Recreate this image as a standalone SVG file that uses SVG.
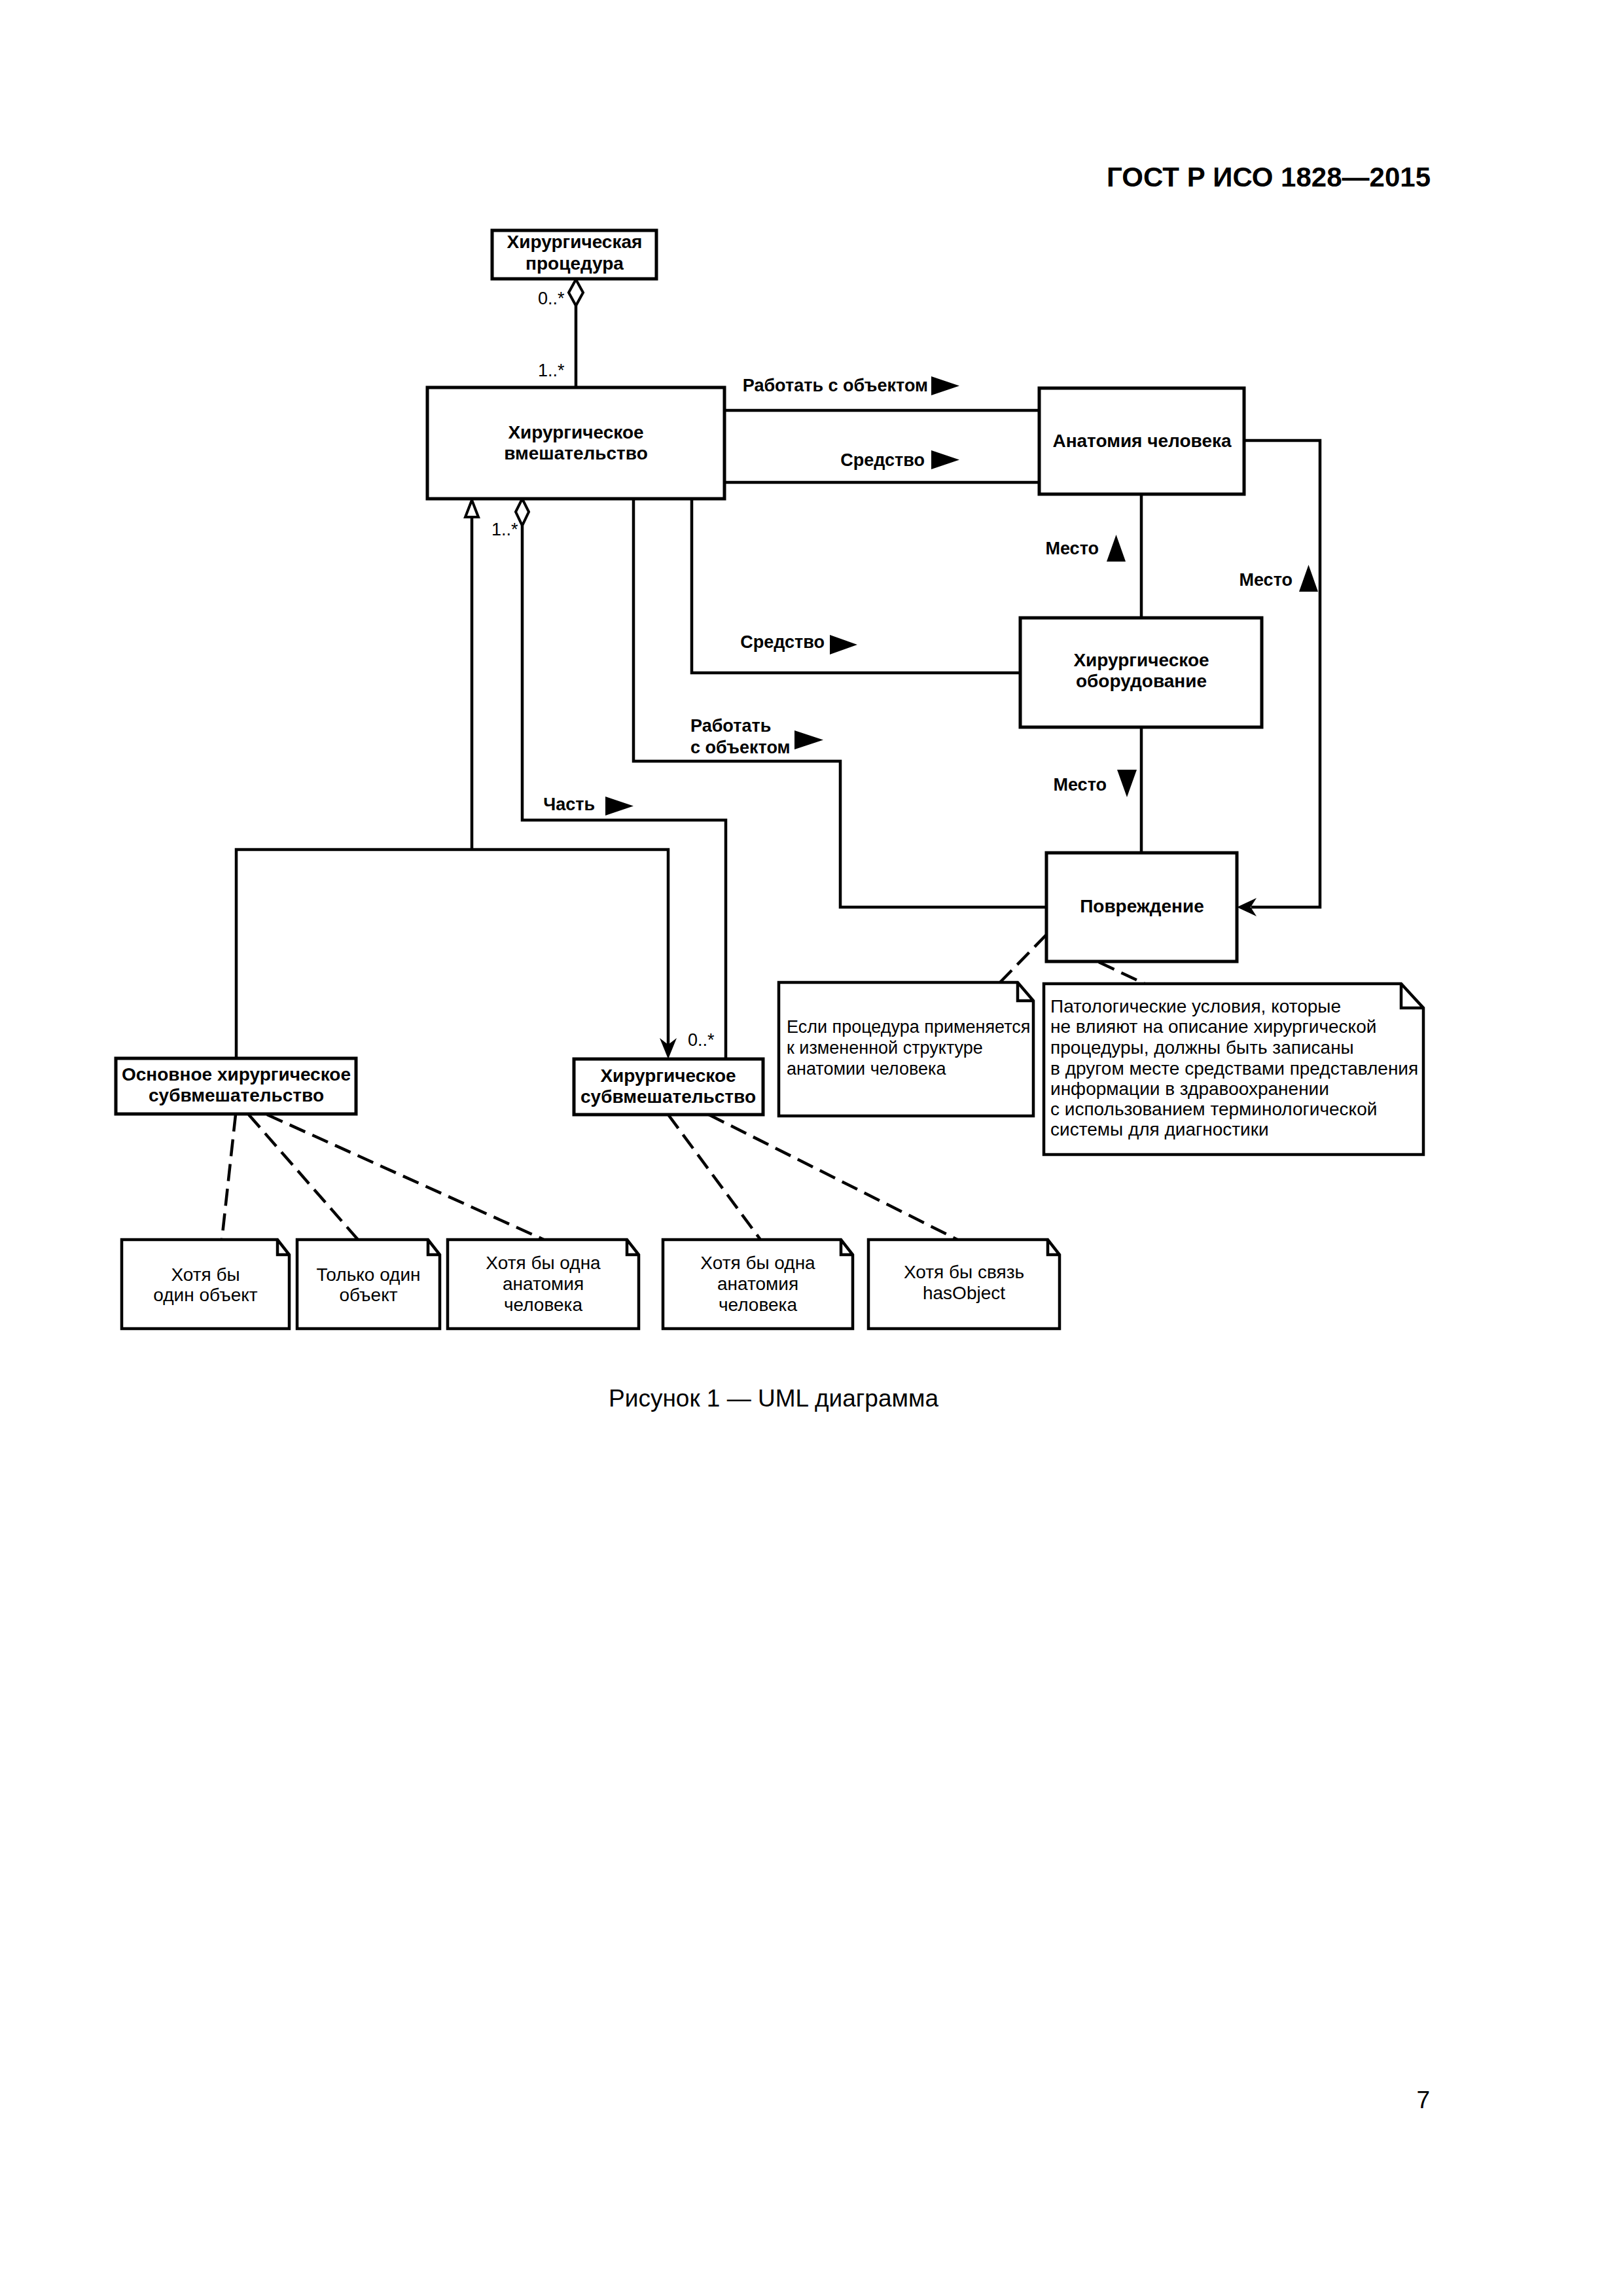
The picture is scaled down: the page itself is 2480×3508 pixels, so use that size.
<svg xmlns="http://www.w3.org/2000/svg" width="2480" height="3508" viewBox="0 0 2480 3508">
<style>
text{font-family:"Liberation Sans",Arial,sans-serif;fill:#000}
.b{font-weight:bold;font-size:28px}
.lb{font-weight:bold;font-size:27px}
.r{font-size:27px}
.r2{font-size:28px}
.m{font-size:27px}
.n{font-size:28px}
.c{text-anchor:middle}
.e{text-anchor:end}
.box{fill:#fff;stroke:#000;stroke-width:5}
.note{fill:#fff;stroke:#000;stroke-width:4.5;stroke-linejoin:miter}
.ln{fill:none;stroke:#000;stroke-width:4.5}
.ds{fill:none;stroke:#000;stroke-width:4.5;stroke-dasharray:26 12}
.tri{fill:#000}
</style>
<rect width="2480" height="3508" fill="#fff"/>
<text x="2186" y="285" class="e" style="font-weight:bold;font-size:42px">ГОСТ Р ИСО 1828—2015</text>

<g id="connectors">
<line class="ln" x1="880" y1="467" x2="880" y2="592"/>
<polygon points="880,427 891,447 880,467 869,447" fill="#fff" stroke="#000" stroke-width="4"/>
<text x="822" y="465" class="m">0..*</text>
<text x="822" y="575" class="m">1..*</text>
<line class="ln" x1="1107" y1="627" x2="1588" y2="627"/>
<line class="ln" x1="1107" y1="737" x2="1588" y2="737"/>
<text x="1418" y="598" class="lb e">Работать с объектом</text>
<polygon class="tri" points="1423,575 1423,604 1466,589.5"/>
<text x="1413" y="712" class="lb e">Средство</text>
<polygon class="tri" points="1423,688 1423,717 1466,702.5"/>
<polyline class="ln" points="1901,673 2017,673 2017,1386 1912,1386"/>
<polygon class="tri" points="1890,1386 1920,1372 1911,1386 1920,1400"/>
<text x="1975" y="895" class="lb e">Место</text>
<polygon class="tri" points="1985,904 2014,904 1999.5,863"/>
<line class="ln" x1="1744" y1="755" x2="1744" y2="944"/>
<text x="1679" y="847" class="lb e">Место</text>
<polygon class="tri" points="1691,858 1720,858 1705.5,817"/>
<line class="ln" x1="1744" y1="1111" x2="1744" y2="1303"/>
<text x="1691" y="1208" class="lb e">Место</text>
<polygon class="tri" points="1707,1176 1737,1176 1722,1218"/>
<polyline class="ln" points="1057,762 1057,1028 1559,1028"/>
<text x="1260" y="990" class="lb e">Средство</text>
<polygon class="tri" points="1268,970 1268,1000 1310,985"/>
<polyline class="ln" points="968,762 968,1163 1284,1163 1284,1386 1599,1386"/>
<text x="1055" y="1118" class="lb">Работать</text>
<text x="1055" y="1151" class="lb">с объектом</text>
<polygon class="tri" points="1214,1116 1214,1145 1258,1130.5"/>
<polyline class="ln" points="798,803 798,1253 1109,1253 1109,1618"/>
<polygon points="798,762 808,782 798,803 788,782" fill="#fff" stroke="#000" stroke-width="4"/>
<text x="751" y="818" class="m">1..*</text>
<text x="909" y="1238" class="lb e">Часть</text>
<polygon class="tri" points="925,1217 925,1246 968,1231.5"/>
<line class="ln" x1="721" y1="790" x2="721" y2="1298"/>
<polygon points="721,764 731,790 711,790" fill="#fff" stroke="#000" stroke-width="4"/>
<polyline class="ln" points="361,1617 361,1298 1021,1298 1021,1600"/>
<polygon class="tri" points="1021,1618 1008,1586 1021,1596 1034,1586"/>
<text x="1051" y="1598" class="m">0..*</text>
<line class="ds" x1="1599" y1="1428" x2="1528" y2="1501"/>
<line class="ds" x1="1679" y1="1470" x2="1749" y2="1503"/>
<line class="ds" x1="360" y1="1703" x2="339" y2="1894"/>
<line class="ds" x1="380" y1="1703" x2="547" y2="1894"/>
<line class="ds" x1="408" y1="1703" x2="831" y2="1894"/>
<line class="ds" x1="1021" y1="1703" x2="1162" y2="1894"/>
<line class="ds" x1="1083" y1="1703" x2="1463" y2="1894"/>
</g>

<g id="procedure">
<rect class="box" x="752" y="352" width="251" height="74"/>
<text x="878" y="379" class="b c">Хирургическая</text>
<text x="878" y="412" class="b c">процедура</text>
</g>
<g id="intervention">
<rect class="box" x="653" y="592" width="454" height="170"/>
<text x="880" y="670" class="b c">Хирургическое</text>
<text x="880" y="702" class="b c">вмешательство</text>
</g>
<g id="anatomy">
<rect class="box" x="1588" y="593" width="313" height="162"/>
<text x="1745" y="683" class="b c">Анатомия человека</text>
</g>
<g id="equipment">
<rect class="box" x="1559" y="944" width="369" height="167"/>
<text x="1744" y="1018" class="b c">Хирургическое</text>
<text x="1744" y="1050" class="b c">оборудование</text>
</g>
<g id="damage">
<rect class="box" x="1599" y="1303" width="291" height="166"/>
<text x="1745" y="1394" class="b c">Повреждение</text>
</g>
<g id="main-sub">
<rect class="box" x="177" y="1617" width="367" height="85"/>
<text x="361" y="1651" class="b c">Основное хирургическое</text>
<text x="361" y="1683" class="b c">субвмешательство</text>
</g>
<g id="sub">
<rect class="box" x="877" y="1618" width="289" height="85"/>
<text x="1021" y="1653" class="b c">Хирургическое</text>
<text x="1021" y="1685" class="b c">субвмешательство</text>
</g>
<g id="note-structure">
<path class="note" d="M1190,1501 H1555 L1579,1529 V1705 H1190 Z M1555,1501 V1529 H1579"/>
<text x="1202" y="1578" class="r">Если процедура применяется</text>
<text x="1202" y="1610" class="r">к измененной структуре</text>
<text x="1202" y="1642" class="r">анатомии человека</text>
</g>
<g id="note-pathology">
<path class="note" d="M1595,1503 H2141 L2175,1540 V1764 H1595 Z M2141,1503 V1540 H2175"/>
<text x="1605" y="1547" class="r2">Патологические условия, которые</text>
<text x="1605" y="1578" class="r2">не влияют на описание хирургической</text>
<text x="1605" y="1610" class="r2">процедуры, должны быть записаны</text>
<text x="1605" y="1642" class="r2">в другом месте средствами представления</text>
<text x="1605" y="1673" class="r2">информации в здравоохранении</text>
<text x="1605" y="1704" class="r2">с использованием терминологической</text>
<text x="1605" y="1735" class="r2">системы для диагностики</text>
</g>
<g id="note1">
<path class="note" d="M186,1894 H424 L442,1917 V2030 H186 Z M424,1894 V1917 H442"/>
<text x="314" y="1957" class="n c">Хотя бы</text>
<text x="314" y="1988" class="n c">один объект</text>
</g>
<g id="note2">
<path class="note" d="M454,1894 H654 L672,1917 V2030 H454 Z M654,1894 V1917 H672"/>
<text x="563" y="1957" class="n c">Только один</text>
<text x="563" y="1988" class="n c">объект</text>
</g>
<g id="note3">
<path class="note" d="M684,1894 H958 L976,1917 V2030 H684 Z M958,1894 V1917 H976"/>
<text x="830" y="1939" class="n c">Хотя бы одна</text>
<text x="830" y="1971" class="n c">анатомия</text>
<text x="830" y="2003" class="n c">человека</text>
</g>
<g id="note4">
<path class="note" d="M1013,1894 H1285 L1303,1917 V2030 H1013 Z M1285,1894 V1917 H1303"/>
<text x="1158" y="1939" class="n c">Хотя бы одна</text>
<text x="1158" y="1971" class="n c">анатомия</text>
<text x="1158" y="2003" class="n c">человека</text>
</g>
<g id="note5">
<path class="note" d="M1327,1894 H1601 L1619,1917 V2030 H1327 Z M1601,1894 V1917 H1619"/>
<text x="1473" y="1953" class="n c">Хотя бы связь</text>
<text x="1473" y="1985" class="n c">hasObject</text>
</g>

<text x="1182" y="2149" class="c" style="font-size:37px">Рисунок 1 — UML диаграмма</text>
<text x="2185" y="3221" class="e" style="font-size:37px">7</text>
</svg>
